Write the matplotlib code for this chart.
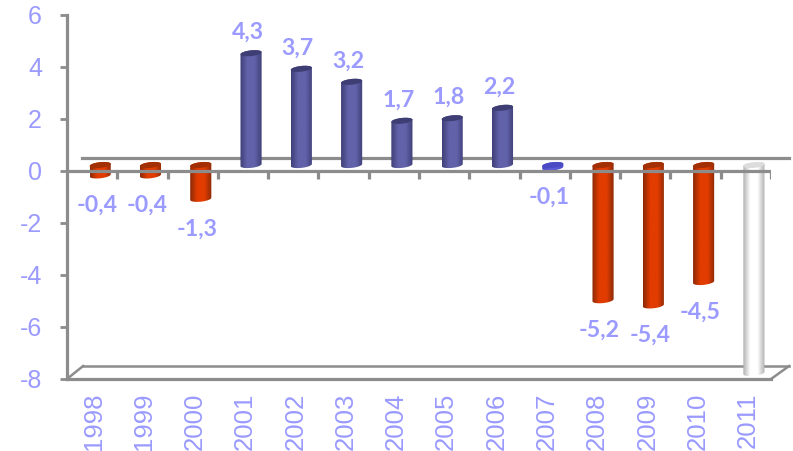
import numpy as np
import matplotlib
matplotlib.use("Agg")
import matplotlib.pyplot as plt
from matplotlib.colors import LinearSegmentedColormap
from matplotlib.patches import Polygon
from matplotlib.transforms import ScaledTranslation

years = ["1998", "1999", "2000", "2001", "2002", "2003", "2004",
         "2005", "2006", "2007", "2008", "2009", "2010", "2011"]
values = [-0.4, -0.4, -1.3, 4.3, 3.7, 3.2, 1.7, 1.8, 2.2, -0.1, -5.2, -5.4, -4.5, -8.0]
labels = ["-0,4", "-0,4", "-1,3", "4,3", "3,7", "3,2", "1,7",
          "1,8", "2,2", "-0,1", "-5,2", "-5,4", "-4,5", ""]
y_ticks = [6, 4, 2, 0, -2, -4, -6, -8]

TEXT = "#9a9aff"
LINE = "#8c8c8c"
# (edge, middle, cap)
RED = ("#8c2a08", "#e23c00", "#a23004")
BLUE = ("#3f3f78", "#6262aa", "#3e3e74")
BLUE_2007 = ("#4a4ac4", "#5a5ad6", "#4a4ac4")
WHITE = ("#b0b0b0", "#ffffff", "#dcdcdc")

# 3D look of the original: bars and back wall shifted from the category centre
BAR_DX, BAR_DY = 0.16, 0.23
DEPTH_X, DEPTH_Y = 0.36, 0.5
HALF_W, ELL_B, SLANT = 0.21, 0.11, 0.2


def cylinder(ax, x, v, colors):
    """Slanted cylinder from the shifted zero plane to v, with a gradient body."""
    edge, mid, cap = colors
    cx = x + BAR_DX
    lo, hi = sorted((BAR_DY, v + BAR_DY))
    t = np.linspace(0, np.pi, 40)
    xs = HALF_W * np.cos(t)
    up = ELL_B * np.sin(t) + SLANT * xs
    down = -ELL_B * np.sin(t) + SLANT * xs
    outline = np.r_[np.c_[cx + xs, hi + up], np.c_[cx + xs[::-1], lo + down[::-1]]]
    body = Polygon(outline, closed=True, fc="none", ec="none", zorder=3)
    ax.add_patch(body)
    cmap = LinearSegmentedColormap.from_list("c", [edge, mid, mid, edge])
    im = ax.imshow(np.linspace(0, 1, 64)[None, :], cmap=cmap, aspect="auto", zorder=3,
                   extent=(cx - HALF_W, cx + HALF_W, lo - 0.4, hi + 0.4))
    im.set_clip_path(body)
    top = np.r_[np.c_[cx + xs, hi + up], np.c_[cx + xs[::-1], hi + down[::-1]]]
    ax.add_patch(Polygon(top, closed=True, fc=cap, ec="none", zorder=3.1))


fig = plt.figure(figsize=(7.93, 4.51), dpi=100)
ax = fig.add_axes([67 / 793, 1 - 379 / 451, 704 / 793, 364 / 451])

x = np.arange(len(years)) + 0.5
n = len(years)

# back wall and floor
ax.plot([0.3, n + DEPTH_X], [DEPTH_Y, DEPTH_Y], color=LINE, lw=2.3, zorder=1, clip_on=False)
ax.plot([DEPTH_X - 0.04, n + DEPTH_X], [-8 + DEPTH_Y] * 2, color=LINE, lw=1.8, zorder=1, clip_on=False)
ax.plot([0, DEPTH_X - 0.04], [-8, -8 + DEPTH_Y], color=LINE, lw=1.8, zorder=1)
ax.plot([n, n + DEPTH_X], [-8, -8 + DEPTH_Y], color=LINE, lw=1.8, zorder=1, clip_on=False)

for xi, v, year in zip(x, values, years):
    if year == "2011":
        colors = WHITE
    elif year == "2007":
        colors = BLUE_2007
    else:
        colors = BLUE if v > 0 else RED
    cylinder(ax, xi, v, colors)

# zero line with its ticks, drawn over the bars
ax.axhline(0, color=LINE, lw=2.3, zorder=4)
ax.vlines(np.arange(1, n + 1), -8 / 26, 0, color=LINE, lw=2.3, zorder=4)

for xi, v, lab in zip(x, values, labels):
    if not lab:
        continue
    off = 21 if v > 0 else -30
    base = v + BAR_DY
    ax.annotate(lab, (xi, base), xytext=(4.5 * 0.72, off * 0.72), textcoords="offset points",
                ha="center", va="center", color=TEXT, fontsize=16.7, fontweight="bold",
                family="Lato", zorder=5)

ax.set_xlim(0, n)
ax.set_ylim(-8, 6)
for side in ("top", "right"):
    ax.spines[side].set_visible(False)
for side in ("left", "bottom"):
    ax.spines[side].set_color(LINE)
    ax.spines[side].set_linewidth(2.3)

ax.set_yticks(y_ticks)
ax.set_yticklabels([str(t) for t in y_ticks], family="Liberation Sans", fontsize=18, color=TEXT)
ax.tick_params(axis="y", direction="out", length=5, width=2.0, color=LINE, pad=13)
ax.set_xticks(x)
ax.set_xticklabels(years, rotation=90, family="Liberation Sans", fontsize=18.5, color=TEXT)
ax.tick_params(axis="x", length=0, pad=10)
nudge = ScaledTranslation(2 / 100, 0, fig.dpi_scale_trans)
for tick_label in ax.get_xticklabels():
    tick_label.set_transform(tick_label.get_transform() + nudge)

fig.savefig("out.png", dpi=100)
